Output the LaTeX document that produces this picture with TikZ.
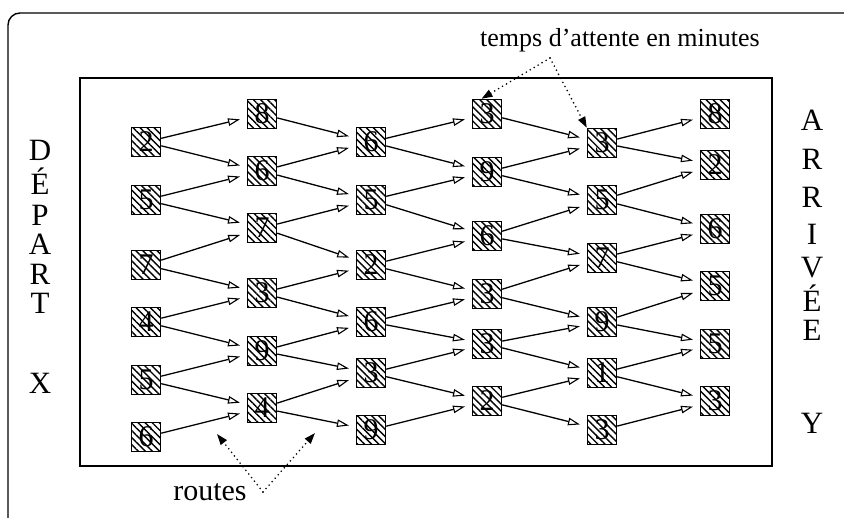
\documentclass[tikz,border=0pt]{standalone}
\usepackage{fontspec}
\setmainfont{Liberation Serif}
\usetikzlibrary{arrows.meta,patterns.meta}
\begin{document}
\begin{tikzpicture}[x=1pt,y=-1pt,
  cell/.style={draw, line width=1.4pt, minimum size=29pt, inner sep=0pt,
    pattern={Lines[angle=-45,distance=5pt,line width=1.4pt]},
    font=\fontsize{30}{30}\selectfont},
  road/.style={line width=1.3pt, shorten >=7pt,
    -{Triangle[open,length=12pt,width=7.5pt,line width=1.1pt]}},
  note/.style={line width=1.8pt, line cap=round, dash pattern=on 0pt off 4.6pt,
    -{Triangle[length=11pt,width=7.5pt]}},
  lab/.style={font=\fontsize{26}{26}\selectfont, inner sep=0pt},
  side/.style={font=\fontsize{31}{31}\selectfont, inner sep=0pt, anchor=base}]
\useasboundingbox (0,0) rectangle (844,518);
% frames
\draw[line width=1.4pt, rounded corners=12pt] (8,518) -- (8,13) -- (844,13);
\draw[line width=1.4pt] (80,78) rectangle (772,466);
% nodes
\node[cell] (c1r0) at (146,142) {2};
\node[cell] (c1r1) at (146,200) {5};
\node[cell] (c1r2) at (146,265) {7};
\node[cell] (c1r3) at (146,322) {4};
\node[cell] (c1r4) at (146,380) {5};
\node[cell] (c1r5) at (146,437) {6};
\node[cell] (c2r0) at (262,114) {8};
\node[cell] (c2r1) at (262,171) {6};
\node[cell] (c2r2) at (262,228) {7};
\node[cell] (c2r3) at (262,293) {3};
\node[cell] (c2r4) at (262,351) {9};
\node[cell] (c2r5) at (262,408) {4};
\node[cell] (c3r0) at (371,142) {6};
\node[cell] (c3r1) at (371,200) {5};
\node[cell] (c3r2) at (371,265) {2};
\node[cell] (c3r3) at (371,322) {6};
\node[cell] (c3r4) at (371,373) {3};
\node[cell] (c3r5) at (371,430) {9};
\node[cell] (c4r0) at (487,114) {3};
\node[cell] (c4r1) at (487,172) {9};
\node[cell] (c4r2) at (487,236) {6};
\node[cell] (c4r3) at (487,294) {3};
\node[cell] (c4r4) at (487,344) {3};
\node[cell] (c4r5) at (487,401) {2};
\node[cell] (c5r0) at (602,143) {3};
\node[cell] (c5r1) at (602,200) {5};
\node[cell] (c5r2) at (602,258) {7};
\node[cell] (c5r3) at (602,322) {9};
\node[cell] (c5r4) at (602,373) {1};
\node[cell] (c5r5) at (602,430) {3};
\node[cell] (c6r0) at (715,114) {8};
\node[cell] (c6r1) at (715,165) {2};
\node[cell] (c6r2) at (715,229) {6};
\node[cell] (c6r3) at (715,286) {5};
\node[cell] (c6r4) at (715,344) {5};
\node[cell] (c6r5) at (715,401) {3};
% routes
\foreach \c/\n in {1/2,3/4,5/6}{
  \foreach \i in {0,...,5}{ \draw[road] (c\c r\i) -- (c\n r\i); }
  \foreach \i/\j in {0/1,1/2,2/3,3/4,4/5}{ \draw[road] (c\c r\i) -- (c\n r\j); }
}
\foreach \c/\n in {2/3,4/5}{
  \foreach \i in {0,...,5}{ \draw[road] (c\c r\i) -- (c\n r\i); }
  \foreach \i/\j in {1/0,2/1,3/2,4/3,5/4}{ \draw[road] (c\c r\i) -- (c\n r\j); }
}
% side labels
\node[side] (d1) at (40,161) {D};
\node[side] (d2) at (40,195) {É};
\node[side] (d3) at (40,226) {P};
\node[side] (d4) at (40,255) {A};
\node[side] (d5) at (40,285) {R};
\node[side] (d6) at (40,314) {T};
\node[side] (d7) at (40,394) {X};
\node[side] (a1) at (812,131) {A};
\node[side] (a2) at (812,170) {R};
\node[side] (a3) at (812,208) {R};
\node[side] (a4) at (812,245) {I};
\node[side] (a5) at (812,278) {V};
\node[side] (a6) at (812,312) {É};
\node[side] (a7) at (812,341) {E};
\node[side] (a8) at (812,434) {Y};
% annotations
\node[lab, anchor=base west] (tw) at (480,47) {temps d’attente en minutes};
\coordinate (tp) at (550,58);
\draw[note] (tp) -- (c4r0.110);
\draw[note] (tp) -- (c5r0.north west);
\node[lab, anchor=base, font=\fontsize{30}{30}\selectfont] (rt) at (210,501) {routes};
\coordinate (rp) at (263,492);
\coordinate (rl) at (217,434);
\coordinate (rr) at (315,433);
\draw[note] (rp) -- (rl);
\draw[note] (rp) -- (rr);
\end{tikzpicture}
\end{document}
